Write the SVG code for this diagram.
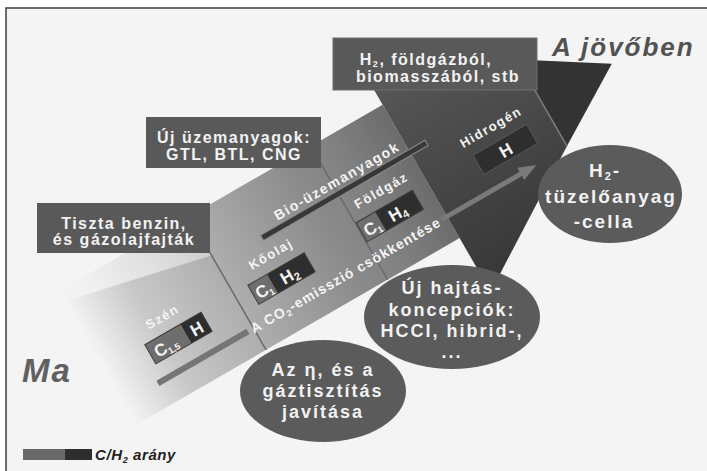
<svg xmlns="http://www.w3.org/2000/svg" width="707" height="471" viewBox="0 0 707 471">
<defs>
<linearGradient id="bandGrad" gradientUnits="userSpaceOnUse" x1="-95" y1="0" x2="279" y2="0">
<stop offset="0" stop-color="#f4f4f4"/>
<stop offset="0.174" stop-color="#c8c8c8"/>
<stop offset="0.468" stop-color="#a6a6a6"/>
<stop offset="0.695" stop-color="#8c8c8c"/>
<stop offset="0.842" stop-color="#808080"/>
<stop offset="1" stop-color="#6c6c6c"/>
</linearGradient>
<linearGradient id="headGrad" gradientUnits="userSpaceOnUse" x1="0" y1="222" x2="0" y2="498">
<stop offset="0" stop-color="#5c5c5c"/>
<stop offset="1" stop-color="#363636"/>
</linearGradient>
<linearGradient id="sheenGrad" gradientUnits="userSpaceOnUse" x1="-100" y1="0" x2="56" y2="0">
<stop offset="0" stop-color="#f4f4f4" stop-opacity="0.9"/>
<stop offset="1" stop-color="#f4f4f4" stop-opacity="0.45"/>
</linearGradient>
<style>
.t{font-family:"Liberation Sans",Arial,sans-serif;font-weight:bold}
.box{fill:#595959}
.boxt{font-size:16px;letter-spacing:1.5px;fill:#f2f2f2;text-anchor:middle}
.ell{fill:#5b5b5b}
.ellt{font-size:18px;letter-spacing:2px;fill:#f2f2f2;text-anchor:middle}
.lab{font-size:13px;letter-spacing:1.5px;fill:#f4f4f4}
.cC{fill:#6e6e6e}
.cH{fill:#2e2e2e}
.cOut{fill:none;stroke:#3a3a3a;stroke-width:1}
.cellt{font-size:17px;fill:#f4f4f4}
.div{stroke:#6a6a6a;stroke-width:1.5}
.it{font-style:italic}
</style>
</defs>
<rect x="0" y="0" width="707" height="471" fill="#ffffff"/>
<rect x="6" y="8" width="701" height="463" fill="#f4f4f4"/>
<path d="M6,471 V8 H707" fill="none" stroke="#3c3c3c" stroke-width="1.5"/>

<g id="band-arrow" transform="rotate(-30)">
<polygon points="-100,282 279,282 279,436 -100,436" fill="url(#bandGrad)"/>
<polygon points="-100,282 56,282 56,327 -100,292" fill="url(#sheenGrad)"/>
<polygon points="279,222 418,310 418,410 279,498" fill="url(#headGrad)"/>
<polygon points="418,310 498,361 418,410" fill="#333333"/>
<line x1="418" y1="310" x2="418" y2="410" stroke="#7c7c7c" stroke-width="1.5"/>
<line class="div" x1="55.5" y1="282" x2="55.5" y2="436"/>
<line class="div" x1="196" y1="282" x2="196" y2="436"/>
<rect x="108" y="334" width="190" height="6" fill="#383838" stroke="#8a8a8a" stroke-width="1"/>
<rect x="-55" y="408" width="104" height="6" fill="#757575"/>
<text class="t lab" x="201" y="330" style="font-size:14px;text-anchor:middle">Bio-üzemanyagok</text>
<text class="t lab" x="53" y="416" style="font-size:14px;letter-spacing:1px">A CO<tspan font-size="9" dy="3">2</tspan><tspan dy="-3">-emisszió csökkentése</tspan></text>
</g>

<g id="connectors" transform="rotate(-30)">
<line x1="272" y1="411" x2="366" y2="411" stroke="#7a7a7a" stroke-width="5"/>
<polygon points="364,404 382,411 364,418" fill="#7a7a7a"/>
</g>

<g id="cell-szen" transform="rotate(-30)">
<text class="t lab" x="-36" y="360">Szén</text>
<rect class="cC" x="-47" y="371" width="41" height="22"/>
<rect class="cH" x="-6" y="371" width="24" height="22"/>
<rect class="cOut" x="-47" y="371" width="65" height="22"/>
<text class="t cellt" x="-42" y="389">C<tspan font-size="9" dy="3">1,5</tspan></text>
<text class="t cellt" x="6" y="389" text-anchor="middle">H</text>
</g>

<g id="cell-koolaj" transform="rotate(-30)">
<text class="t lab" x="83" y="360">Kőolaj</text>
<rect class="cC" x="72" y="371" width="22" height="22"/>
<rect class="cH" x="94" y="371" width="43" height="22"/>
<rect class="cOut" x="72" y="371" width="65" height="22"/>
<text class="t cellt" x="75" y="389">C<tspan font-size="9" dy="3">1</tspan></text>
<text class="t cellt" x="104" y="389">H<tspan font-size="11" dy="3">2</tspan></text>
</g>

<g id="cell-foldgaz" transform="rotate(-30)">
<text class="t lab" x="205" y="360">Földgáz</text>
<rect class="cC" x="197" y="371" width="22" height="22"/>
<rect class="cH" x="219" y="371" width="43" height="22"/>
<rect class="cOut" x="197" y="371" width="65" height="22"/>
<text class="t cellt" x="200" y="389">C<tspan font-size="9" dy="3">1</tspan></text>
<text class="t cellt" x="229" y="389">H<tspan font-size="11" dy="3">4</tspan></text>
</g>

<g id="cell-hidrogen" transform="rotate(-30)">
<text class="t lab" x="327" y="360">Hidrogén</text>
<rect x="332" y="371" width="62" height="22" fill="#2e2e2e" stroke="#555555" stroke-width="1"/>
<text class="t cellt" x="363" y="389" text-anchor="middle">H</text>
</g>

<g id="box-tiszta">
<rect class="box" x="37" y="203" width="173" height="50"/>
<text class="t boxt" x="124" y="229">Tiszta benzin,</text>
<text class="t boxt" x="124" y="245">és gázolajfajták</text>
</g>

<g id="box-uj">
<rect class="box" x="146" y="117" width="175" height="51"/>
<text class="t boxt" x="234" y="143">Új üzemanyagok:</text>
<text class="t boxt" x="234" y="159.5">GTL, BTL, CNG</text>
</g>

<g id="box-h2">
<rect class="box" x="333" y="38" width="204" height="52" stroke="#6e6e6e" stroke-width="1"/>
<text class="t boxt" x="426" y="64.5">H<tspan font-size="9" dy="2">2</tspan><tspan dy="-2">, földgázból,</tspan></text>
<text class="t boxt" x="438" y="82">biomasszából, stb</text>
</g>

<g id="ell-h2">
<ellipse class="ell" cx="610" cy="194" rx="72" ry="49"/>
<text class="t ellt" x="605" y="177" style="font-size:19px">H<tspan font-size="11" dy="3">2</tspan><tspan dy="-3">-</tspan></text>
<text class="t ellt" x="611" y="203" style="font-size:19px">tüzelőanyag</text>
<text class="t ellt" x="604" y="228" style="font-size:19px">-cella</text>
</g>

<g id="ell-az">
<ellipse class="ell" cx="323" cy="391" rx="83" ry="51"/>
<text class="t ellt" x="323" y="376">Az η, és a</text>
<text class="t ellt" x="323" y="397">gáztisztítás</text>
<text class="t ellt" x="323" y="418">javítása</text>
</g>

<g id="ell-uj">
<ellipse class="ell" cx="452" cy="317" rx="88" ry="52"/>
<text class="t ellt" x="452" y="294">Új hajtás-</text>
<text class="t ellt" x="452" y="315.5">koncepciók:</text>
<text class="t ellt" x="452" y="337">HCCI, hibrid-,</text>
<text class="t ellt" x="452" y="358">...</text>
</g>

<g id="label-ma">
<text class="t it" x="22" y="382" font-size="33" letter-spacing="2" fill="#606060">Ma</text>
</g>

<g id="label-jovoben">
<text class="t it" x="552" y="56" font-size="26" letter-spacing="2" fill="#525252">A jövőben</text>
</g>

<g id="legend">
<rect x="23" y="449" width="42" height="11" fill="#6a6a6a"/>
<rect x="65" y="449" width="27" height="11" fill="#2e2e2e"/>
<text class="t it" x="95" y="460" font-size="15" letter-spacing="0.6" fill="#222222">C/H<tspan font-size="9" dy="3">2</tspan><tspan dy="-3"> arány</tspan></text>
</g>
</svg>
